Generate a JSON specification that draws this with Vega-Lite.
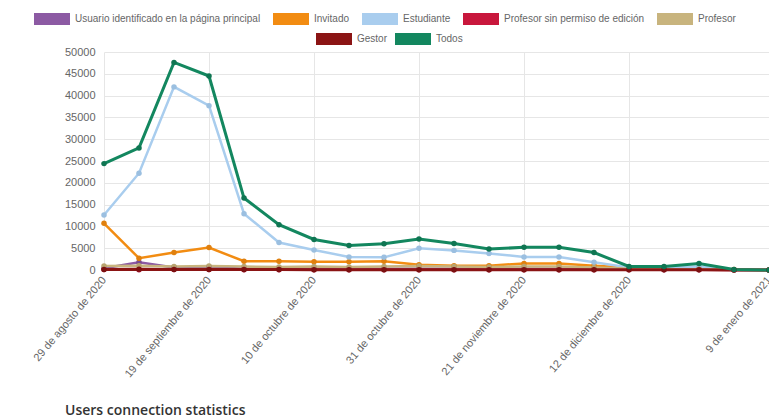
{
  "$schema": "https://vega.github.io/schema/vega-lite/v6.json",
  "autosize": {"type": "none"},
  "padding": {"left": 104, "top": 52, "right": 0, "bottom": 148},
  "width": 665,
  "height": 218,
  "background": "white",
  "config": {
    "font": "Liberation Sans",
    "view": {"stroke": null}
  },
  "title": {
    "text": "Users connection statistics",
    "orient": "bottom",
    "anchor": "start",
    "frame": "group",
    "dx": -39,
    "offset": 25,
    "font": "Open Sans",
    "fontSize": 14,
    "fontWeight": 600,
    "color": "#333333"
  },
  "data": {
    "values": [
      {"fecha": "29 de agosto de 2020", "Usuario identificado en la página principal": 400, "Invitado": 10700, "Estudiante": 12600, "Profesor sin permiso de edición": 100, "Profesor": 900, "Gestor": 100, "Todos": 24400},
      {"fecha": "5 de septiembre de 2020", "Usuario identificado en la página principal": 1800, "Invitado": 2700, "Estudiante": 22200, "Profesor sin permiso de edición": 80, "Profesor": 1000, "Gestor": 200, "Todos": 28000},
      {"fecha": "12 de septiembre de 2020", "Usuario identificado en la página principal": 600, "Invitado": 4000, "Estudiante": 42000, "Profesor sin permiso de edición": 100, "Profesor": 800, "Gestor": 100, "Todos": 47600},
      {"fecha": "19 de septiembre de 2020", "Usuario identificado en la página principal": 700, "Invitado": 5150, "Estudiante": 37700, "Profesor sin permiso de edición": 100, "Profesor": 900, "Gestor": 100, "Todos": 44500},
      {"fecha": "26 de septiembre de 2020", "Usuario identificado en la página principal": 300, "Invitado": 2000, "Estudiante": 12900, "Profesor sin permiso de edición": 80, "Profesor": 800, "Gestor": 100, "Todos": 16500},
      {"fecha": "3 de octubre de 2020", "Usuario identificado en la página principal": 300, "Invitado": 2000, "Estudiante": 6300, "Profesor sin permiso de edición": 60, "Profesor": 700, "Gestor": 100, "Todos": 10400},
      {"fecha": "10 de octubre de 2020", "Usuario identificado en la página principal": 300, "Invitado": 1900, "Estudiante": 4600, "Profesor sin permiso de edición": 60, "Profesor": 800, "Gestor": 80, "Todos": 7000},
      {"fecha": "17 de octubre de 2020", "Usuario identificado en la página principal": 300, "Invitado": 1900, "Estudiante": 3000, "Profesor sin permiso de edición": 60, "Profesor": 700, "Gestor": 80, "Todos": 5600},
      {"fecha": "24 de octubre de 2020", "Usuario identificado en la página principal": 300, "Invitado": 2000, "Estudiante": 2900, "Profesor sin permiso de edición": 60, "Profesor": 800, "Gestor": 80, "Todos": 6000},
      {"fecha": "31 de octubre de 2020", "Usuario identificado en la página principal": 300, "Invitado": 1200, "Estudiante": 5000, "Profesor sin permiso de edición": 60, "Profesor": 900, "Gestor": 80, "Todos": 7100},
      {"fecha": "7 de noviembre de 2020", "Usuario identificado en la página principal": 300, "Invitado": 1000, "Estudiante": 4500, "Profesor sin permiso de edición": 60, "Profesor": 800, "Gestor": 80, "Todos": 6100},
      {"fecha": "14 de noviembre de 2020", "Usuario identificado en la página principal": 300, "Invitado": 1000, "Estudiante": 3800, "Profesor sin permiso de edición": 60, "Profesor": 700, "Gestor": 80, "Todos": 4800},
      {"fecha": "21 de noviembre de 2020", "Usuario identificado en la página principal": 300, "Invitado": 1500, "Estudiante": 3000, "Profesor sin permiso de edición": 60, "Profesor": 800, "Gestor": 80, "Todos": 5200},
      {"fecha": "28 de noviembre de 2020", "Usuario identificado en la página principal": 300, "Invitado": 1500, "Estudiante": 3000, "Profesor sin permiso de edición": 60, "Profesor": 800, "Gestor": 80, "Todos": 5200},
      {"fecha": "5 de diciembre de 2020", "Usuario identificado en la página principal": 300, "Invitado": 1000, "Estudiante": 1800, "Profesor sin permiso de edición": 50, "Profesor": 600, "Gestor": 60, "Todos": 4000},
      {"fecha": "12 de diciembre de 2020", "Usuario identificado en la página principal": 200, "Invitado": 600, "Estudiante": 600, "Profesor sin permiso de edición": 40, "Profesor": 300, "Gestor": 50, "Todos": 800},
      {"fecha": "19 de diciembre de 2020", "Usuario identificado en la página principal": 100, "Invitado": 300, "Estudiante": 500, "Profesor sin permiso de edición": 30, "Profesor": 200, "Gestor": 40, "Todos": 800},
      {"fecha": "26 de diciembre de 2020", "Usuario identificado en la página principal": 100, "Invitado": 300, "Estudiante": 800, "Profesor sin permiso de edición": 30, "Profesor": 200, "Gestor": 40, "Todos": 1500},
      {"fecha": "2 de enero de 2021", "Usuario identificado en la página principal": 50, "Invitado": 100, "Estudiante": 0, "Profesor sin permiso de edición": 10, "Profesor": 50, "Gestor": 20, "Todos": 100},
      {"fecha": "9 de enero de 2021", "Usuario identificado en la página principal": 0, "Invitado": 0, "Estudiante": 0, "Profesor sin permiso de edición": 0, "Profesor": 0, "Gestor": 0, "Todos": 0}
    ]
  },
  "transform": [
    {"fold": ["Usuario identificado en la página principal", "Invitado", "Estudiante", "Profesor sin permiso de edición", "Profesor", "Gestor", "Todos"], "as": ["serie", "valor"]}
  ],
  "encoding": {
    "x": {
      "field": "fecha",
      "type": "ordinal",
      "sort": null,
      "scale": {"type": "point", "padding": 0},
      "axis": {
        "title": null,
        "values": ["29 de agosto de 2020", "19 de septiembre de 2020", "10 de octubre de 2020", "31 de octubre de 2020", "21 de noviembre de 2020", "12 de diciembre de 2020", "9 de enero de 2021"],
        "labelAngle": -50,
        "labelAlign": "right",
        "labelBaseline": "middle",
        "labelPadding": 8,
        "labelFontSize": 11,
        "labelColor": "#666666",
        "labelOverlap": false,
        "labelBound": false,
        "labelFlush": false,
        "domain": false,
        "ticks": false,
        "grid": true,
        "gridColor": "#e6e6e6"
      }
    },
    "y": {
      "field": "valor",
      "type": "quantitative",
      "scale": {"domain": [0, 50000], "nice": false},
      "axis": {
        "title": null,
        "values": [0, 5000, 10000, 15000, 20000, 25000, 30000, 35000, 40000, 45000, 50000],
        "format": "d",
        "labelFontSize": 11,
        "labelColor": "#666666",
        "labelPadding": 9,
        "domain": false,
        "ticks": false,
        "grid": true,
        "gridColor": "#e6e6e6"
      }
    }
  },
  "layer": [
    {
      "transform": [{"filter": {"field": "serie", "oneOf": ["Usuario identificado en la página principal", "Invitado", "Estudiante", "Profesor sin permiso de edición", "Profesor"]}}],
      "mark": {"type": "line", "strokeWidth": 2.5},
      "encoding": {
        "color": {
          "field": "serie",
          "type": "nominal",
          "scale": {
            "domain": ["Usuario identificado en la página principal", "Invitado", "Estudiante", "Profesor sin permiso de edición", "Profesor"],
            "range": ["#8c5aa3", "#f28c12", "#a9cdee", "#c8173c", "#c8b47e"]
          },
          "legend": {
            "title": null,
            "orient": "none",
            "legendX": -70,
            "legendY": -51,
            "direction": "horizontal",
            "columns": 5,
            "gridAlign": "none",
            "columnPadding": -12,
            "symbolType": "M-1.5,0H1.5",
            "symbolSize": 576,
            "symbolStrokeWidth": 12,
            "labelOffset": 5,
            "labelFontSize": 10,
            "labelColor": "#666666",
            "labelLimit": 300,
            "encode": {"symbols": {"update": {"strokeWidth": {"value": 12}, "opacity": {"value": 1}}}}
          }
        }
      }
    },
    {
      "transform": [{"filter": {"field": "serie", "oneOf": ["Usuario identificado en la página principal", "Invitado", "Estudiante", "Profesor sin permiso de edición", "Profesor"]}}],
      "mark": {"type": "point", "filled": true, "size": 30, "opacity": 1},
      "encoding": {
        "color": {
          "field": "serie",
          "type": "nominal",
          "scale": {
            "domain": ["Usuario identificado en la página principal", "Invitado", "Estudiante", "Profesor sin permiso de edición", "Profesor"],
            "range": ["#7a4a90", "#e0800e", "#9bbfe0", "#b0143a", "#b8a470"]
          },
          "legend": null
        }
      }
    },
    {
      "transform": [{"filter": {"field": "serie", "oneOf": ["Gestor", "Todos"]}}],
      "mark": {"type": "line", "strokeWidth": 3},
      "encoding": {
        "color": {
          "field": "serie",
          "type": "nominal",
          "scale": {"domain": ["Gestor", "Todos"], "range": ["#8b1414", "#13875f"]},
          "legend": {
            "title": null,
            "orient": "none",
            "legendX": 212,
            "legendY": -31,
            "direction": "horizontal",
            "columns": 2,
            "gridAlign": "none",
            "columnPadding": -17,
            "symbolType": "M-1.5,0H1.5",
            "symbolSize": 576,
            "symbolStrokeWidth": 12,
            "labelOffset": 5,
            "labelFontSize": 10,
            "labelColor": "#666666",
            "encode": {"symbols": {"update": {"strokeWidth": {"value": 12}, "opacity": {"value": 1}}}}
          }
        }
      }
    },
    {
      "transform": [{"filter": {"field": "serie", "oneOf": ["Gestor", "Todos"]}}],
      "mark": {"type": "point", "filled": true, "size": 30, "opacity": 1},
      "encoding": {
        "color": {
          "field": "serie",
          "type": "nominal",
          "scale": {"domain": ["Gestor", "Todos"], "range": ["#7a1010", "#0f7552"]},
          "legend": null
        }
      }
    }
  ],
  "resolve": {"scale": {"color": "independent"}}
}
